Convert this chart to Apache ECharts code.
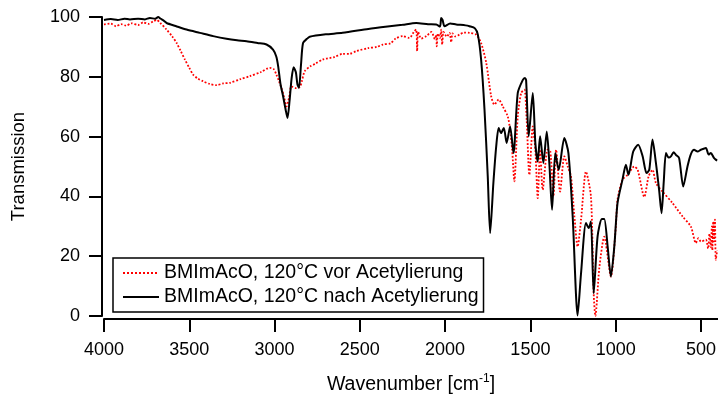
<!DOCTYPE html>
<html>
<head>
<meta charset="utf-8">
<script src="https://cdn.jsdelivr.net/npm/echarts@6/dist/echarts.min.js"></script>
<style>
  html, body { margin: 0; padding: 0; background: #fff; }
  #chart { width: 718px; height: 396px; }
</style>
</head>
<body>
<div id="chart"></div>
<script>
// IR-Spektren
const xTicks = [4000, 3500, 3000, 2500, 2000, 1500, 1000, 500];

// vor Acetylierung (rot, gepunktet)
const vorWn = [4000, 3960, 3930, 3900, 3870, 3840, 3800, 3770, 3740, 3710, 3691, 3670, 3633, 3600, 3574, 3550, 3526, 3500, 3477, 3450,
  3419, 3380, 3340, 3300, 3262, 3200, 3145, 3080, 3028, 3005, 2989, 2975, 2960, 2945, 2930, 2915, 2901, 2875, 2852, 2840,
  2823, 2790, 2760, 2716, 2650, 2600, 2560, 2520, 2450, 2400, 2365, 2320, 2290, 2248, 2210, 2180, 2169, 2164, 2158, 2140,
  2111, 2080, 2060, 2052, 2049, 2042, 2030, 2023, 2017, 2009, 1990, 1974, 1964, 1957, 1940, 1916, 1890, 1857, 1818, 1789,
  1759, 1730, 1711, 1686, 1662, 1633, 1619, 1607, 1594, 1574, 1554, 1535, 1522, 1506, 1486, 1471, 1457, 1443, 1428, 1399,
  1383, 1365, 1349, 1326, 1301, 1281, 1262, 1242, 1223, 1203, 1174, 1145, 1129, 1119, 1096, 1067, 1028, 999, 989, 960,
  930, 891, 871, 832, 807, 784, 764, 725, 667, 608, 559, 530, 515, 500, 471, 458, 450, 442, 436, 433,
  428, 423, 418, 413, 405];
const vorT = [97.5, 97.8, 96.9, 97.6, 97.1, 97.9, 97.3, 98.2, 97.7, 98.6, 99.0, 98.0, 95.8, 93.5, 91.3, 88.6, 85.8, 83.0, 80.7, 79.4,
  78.5, 77.6, 77.2, 77.8, 78.0, 79.2, 80.2, 81.6, 83.0, 82.6, 80.7, 78.7, 76.3, 73.5, 70.1, 73.0, 76.8, 76.2, 76.6, 78.5,
  81.9, 83.5, 84.4, 85.8, 86.6, 87.7, 87.7, 88.6, 89.6, 90.0, 90.8, 91.2, 92.8, 93.6, 93.0, 95.3, 95.8, 88.6, 95.0, 92.8,
  93.6, 95.0, 92.6, 94.1, 90.2, 94.5, 93.0, 95.8, 90.8, 95.0, 93.4, 94.7, 91.6, 94.5, 93.5, 94.1, 94.8, 94.7, 94.1, 91.3,
  84.7, 73.5, 70.7, 72.4, 70.1, 66.8, 62.3, 55.6, 45.0, 66.8, 74.6, 75.7, 65.7, 47.2, 63.4, 55.6, 39.4, 55.6, 42.2, 55.6,
  55.0, 40.0, 55.6, 41.6, 53.4, 50.0, 46.7, 33.3, 23.2, 32.2, 48.3, 40.0, 7.6, 0, 16.0, 26.5, 13.2, 29.9, 38.9, 45.6,
  47.2, 50.0, 48.9, 39.8, 46.7, 48.9, 44.5, 41.6, 37.8, 33.3, 29.9, 24.4, 26.0, 24.9, 25.5, 22.6, 27.5, 23.0, 30.0, 22.0,
  31.6, 25.0, 32.2, 18.8, 22.0];

// nach Acetylierung (schwarz)
const nachWn = [4000, 3960, 3920, 3880, 3848, 3800, 3760, 3731, 3700, 3682, 3670, 3650, 3633, 3580, 3516, 3438, 3360, 3282, 3220, 3164,
  3100, 3047, 3009, 2990, 2979, 2965, 2950, 2935, 2924, 2912, 2900, 2888, 2875, 2866, 2857, 2845, 2833, 2810, 2794, 2700,
  2601, 2450, 2325, 2250, 2169, 2100, 2052, 2030, 2023, 2015, 2003, 1970, 1935, 1880, 1857, 1825, 1808, 1789, 1769, 1750,
  1736, 1717, 1700, 1686, 1672, 1656, 1639, 1619, 1599, 1574, 1545, 1532, 1525, 1510, 1486, 1471, 1457, 1443, 1424, 1404, 1389,
  1373, 1354, 1334, 1301, 1277, 1252, 1223, 1203, 1174, 1158, 1145, 1129, 1106, 1081, 1067, 1047, 1028, 1008, 989, 960,
  940, 925, 897, 868, 842, 819, 803, 784, 764, 745, 731, 718, 705, 690, 676, 660, 647, 628, 604, 579,
  560, 540, 520, 500, 471, 455, 442, 425, 413, 405];
const nachT = [99.0, 99.3, 99.0, 99.4, 99.2, 99.4, 99.2, 99.7, 99.4, 100, 99.5, 98.8, 98.0, 97.0, 95.8, 94.7, 93.6, 92.7, 92.2, 91.9,
  91.3, 90.8, 89.1, 86.8, 83.6, 77.5, 73.5, 69.0, 66.2, 72.0, 79.5, 83.2, 81.5, 77.5, 76.3, 84.0, 91.3, 92.7, 93.4, 94.2,
  94.7, 96.0, 96.9, 97.4, 98.0, 97.6, 97.5, 96.8, 99.7, 99.0, 96.9, 97.8, 97.5, 97.2, 96.9, 96.2, 94.1, 85.8, 69.0, 46.7,
  27.7, 44.5, 57.0, 62.9, 61.2, 62.9, 57.9, 63.4, 54.5, 74.6, 78.9, 79.6, 78.8, 60.1, 74.6, 57.9, 51.7, 60.1, 51.2, 61.7, 51.2,
  35.5, 54.5, 48.9, 59.5, 54.5, 33.3, 0.2, 14.3, 31.1, 29.4, 31.6, 7.6, 26.6, 32.4, 32.4, 23.2, 13.2, 23.2, 37.8, 45.6,
  50.6, 47.2, 55.0, 57.3, 53.4, 47.8, 48.9, 59.0, 51.2, 42.0, 34.4, 45.0, 54.5, 53.0, 53.4, 54.8, 53.9, 52.8, 43.3, 50.0,
  54.0, 55.6, 55.0, 55.6, 56.2, 54.0, 54.5, 53.0, 52.3, 52.0];

const zip = (xs, ys) => xs.map((x, i) => [x, ys[i]]);
const font = '"Liberation Sans", Arial, sans-serif';

const chart = echarts.init(document.getElementById('chart'), null, { renderer: 'canvas' });
chart.setOption({
  animation: false,
  backgroundColor: '#fff',
  textStyle: { fontFamily: font },
  grid: { left: 104, right: 0, top: 17, bottom: 80, containLabel: false, outerBoundsMode: 'none' },
  legend: {
    orient: 'vertical',
    left: 113,
    top: 258,
    padding: [5, 5, 5, 9],
    itemWidth: 36,
    itemHeight: 14,
    itemGap: 4,
    borderColor: '#000',
    borderWidth: 1.5,
    itemStyle: { opacity: 0 },
    textStyle: { fontFamily: font, fontSize: 19.5, color: '#000' },
    data: ['BMImAcO, 120°C vor Acetylierung', 'BMImAcO, 120°C nach Acetylierung']
  },
  xAxis: {
    type: 'value',
    inverse: true,
    min: 400,
    max: 4000,
    offset: 3,
    name: 'Wavenumber [cm{sup|-1}]',
    nameLocation: 'middle',
    nameGap: 54,
    nameTextStyle: {
      fontFamily: font, fontSize: 19.5, color: '#000',
      rich: { sup: { fontSize: 12, padding: [0, 0, 12, 0], fontFamily: font, color: '#000' } }
    },
    axisLine: { show: true, onZero: false, lineStyle: { color: '#000', width: 2 } },
    axisTick: { length: 13, lineStyle: { color: '#000', width: 2 }, customValues: xTicks },
    axisLabel: {
      margin: 22, fontSize: 18, color: '#000', fontFamily: font, customValues: xTicks,
      formatter: v => String(v)
    },
    splitLine: { show: false }
  },
  yAxis: {
    type: 'value',
    min: 0,
    max: 100,
    interval: 20,
    offset: 2,
    name: 'Transmission',
    nameLocation: 'middle',
    nameRotate: 90,
    nameGap: 74,
    nameTextStyle: { fontFamily: font, fontSize: 18.5, color: '#000' },
    axisLine: { show: true, lineStyle: { color: '#000', width: 2 } },
    axisTick: { length: 13, lineStyle: { color: '#000', width: 2 } },
    axisLabel: { margin: 22, fontSize: 18, color: '#000', fontFamily: font, formatter: v => String(v) },
    splitLine: { show: false }
  },
  series: [
    {
      name: 'BMImAcO, 120°C vor Acetylierung',
      type: 'line',
      data: zip(vorWn, vorT),
      showSymbol: false,
      symbol: 'none',
      smooth: 0.25,
      clip: false,
      lineStyle: { color: '#ff0000', width: 1.8, type: 'dotted' },
      itemStyle: { color: '#ff0000' }
    },
    {
      name: 'BMImAcO, 120°C nach Acetylierung',
      type: 'line',
      data: zip(nachWn, nachT),
      showSymbol: false,
      symbol: 'none',
      smooth: 0.25,
      clip: false,
      z: 3,
      lineStyle: { color: '#000', width: 2, type: 'solid' },
      itemStyle: { color: '#000' }
    }
  ]
});
</script>
</body>
</html>
